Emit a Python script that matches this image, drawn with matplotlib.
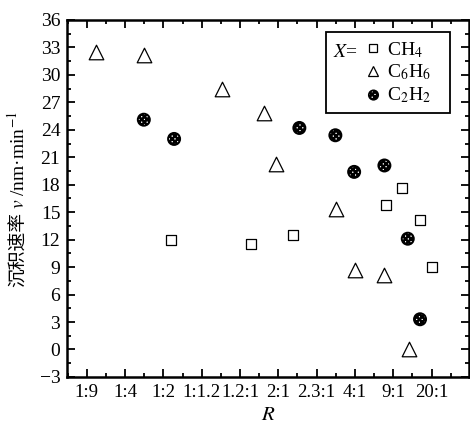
import matplotlib
matplotlib.use("Agg")
import matplotlib.pyplot as plt
from matplotlib.ticker import MultipleLocator
from matplotlib.patches import Rectangle
from matplotlib.lines import Line2D

# 横轴比例 R
r_labels = ['1:9', '1:4', '1:2', '1:1.2', '1.2:1', '2:1', '2.3:1', '4:1', '9:1', '20:1']

# X = CH4
ch4_x = [2.19, 4.29, 5.39, 7.80, 8.22, 8.71, 9.01]
ch4_y = [12.0, 11.5, 12.5, 15.8, 17.6, 14.1, 9.0]
# X = C6H6
c6h6_x = [0.24, 1.49, 3.53, 4.63, 4.95, 6.50, 7.00, 7.76, 8.41]
c6h6_y = [32.5, 32.2, 28.5, 25.8, 20.3, 15.4, 8.7, 8.1, 0.1]
# X = C2H2
c2h2_x = [1.49, 2.28, 5.55, 6.49, 6.98, 7.77, 8.38, 8.70]
c2h2_y = [25.1, 23.0, 24.2, 23.4, 19.4, 20.1, 12.1, 3.3]

plt.rcParams['font.family'] = ['Liberation Serif', 'Noto Sans CJK SC']
plt.rcParams['mathtext.fontset'] = 'stix'
plt.rcParams['hatch.linewidth'] = 1.8

fig = plt.figure(figsize=(4.7, 4.24), dpi=100)
ax = fig.add_axes([0.143, 0.111, 0.855, 0.842])

ax.scatter(ch4_x, ch4_y, marker='s', s=60, facecolor='white', edgecolor='black', linewidth=0.9, zorder=3)
ax.scatter(c6h6_x, c6h6_y, marker='^', s=110, facecolor='white', edgecolor='black', linewidth=0.9, zorder=3)
ax.scatter(c2h2_x, c2h2_y, marker='o', s=75, facecolor='white', edgecolor='black', linewidth=1.4,
           hatch='xxxxxx', zorder=3)

ax.set_xlim(-0.51, 9.98)
ax.set_ylim(-3, 36)
ax.set_xticks(range(len(r_labels)))
ax.set_xticklabels(r_labels)
ax.xaxis.set_minor_locator(MultipleLocator(0.5))
ax.yaxis.set_minor_locator(MultipleLocator(1.5))
ax.set_yticks(range(-3, 37, 3))
ax.set_yticklabels(['\u22123' if v < 0 else str(v) for v in range(-3, 37, 3)])

ax.tick_params(which='both', direction='in', top=True, right=True, width=1.3, labelsize=14)
ax.tick_params(axis='x', labelsize=13.5)
ax.tick_params(which='major', length=6, pad=5)
ax.tick_params(which='minor', length=3)
for sp in ax.spines.values():
    sp.set_linewidth(1.8)

ax.set_xlabel('$R$', fontsize=15, labelpad=4)
# 纵轴标题: 中文部分和公式部分分开写
fig.text(18 / 470, 1 - 212 / 424, '沉积速率', rotation=90, ha='center', va='top',
         fontsize=13.5, family='Noto Sans CJK SC')
fig.text(18 / 470, 1 - 209 / 424, '$v$ /nm·min$^{-1}$', rotation=90, ha='center', va='bottom',
         fontsize=14)

# 图例
handles = [
    Line2D([], [], ls='none', marker='s', ms=5.5, mfc='white', mec='black', mew=0.9),
    Line2D([], [], ls='none', marker='^', ms=7.5, mfc='white', mec='black', mew=0.9),
    ax.scatter([], [], marker='o', s=45, facecolor='white', edgecolor='black', linewidth=1.3, hatch='xxxxxx'),
]
labels = ['CH$_4$', 'C$_6$H$_6$', 'C$_2$H$_2$']
leg = ax.legend(handles, labels, loc='upper left', bbox_to_anchor=(0.738, 0.944), frameon=False,
                borderaxespad=0, borderpad=0, handlelength=1.0, handletextpad=0.2,
                labelspacing=0.15, fontsize=14, scatterpoints=1)
ax.add_patch(Rectangle((0.644, 0.74), 0.309, 0.226, transform=ax.transAxes, fill=False,
                       edgecolor='black', linewidth=1.3, zorder=5))
ax.text(0.661, 0.91, '$X$=', transform=ax.transAxes, fontsize=14, va='center', ha='left')

fig.savefig('out.png', dpi=100)
